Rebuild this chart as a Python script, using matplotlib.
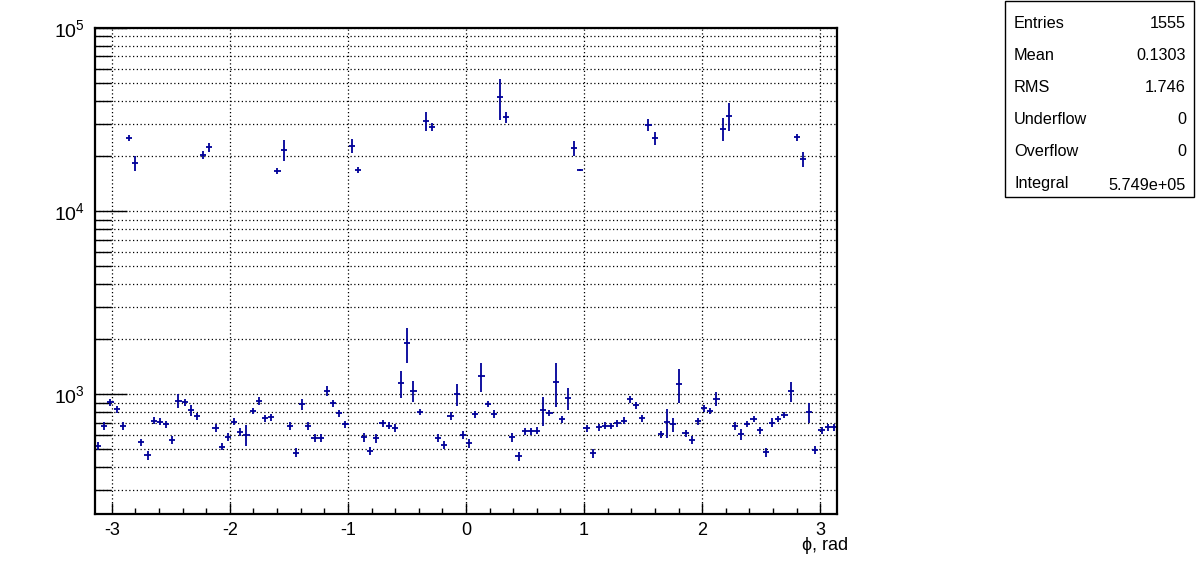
import numpy as np
import matplotlib
matplotlib.use("Agg")
import matplotlib.pyplot as plt
from matplotlib.ticker import MultipleLocator, LogLocator, NullFormatter
from matplotlib.patches import Rectangle

# ---- data (120 bins in phi from -pi to pi) ----
n_bins = 120
phi_min, phi_max = -np.pi, np.pi

counts = [
    524, 674, 904, 828, 674, 25060, 18280, 547, 464, 717,
    708, 685, 562, 923, 904, 820, 760, 20320, 22280, 654,
    518, 586, 708, 625, 600, 811, 919, 739, 748, 16600,
    21630, 674, 480, 885, 674, 579, 579, 1042, 893, 787,
    685, 22800, 16750, 582, 490, 575, 695, 674, 654, 1149,
    1900, 1042, 797, 31120, 28770, 579, 531, 764, 1000, 600,
    540, 778, 1259, 885, 780, 41980, 32640, 582, 460, 630,
    630, 632, 820, 787, 1163, 733, 951, 22070, 16750, 652,
    476, 661, 674, 671, 695, 717, 939, 871, 739, 29640,
    25060, 604, 703, 685, 1134, 612, 562, 714, 838, 811,
    942, 28180, 33040, 674, 604, 688, 733, 638, 482, 700,
    733, 771, 1042, 25350, 19230, 797, 497, 638, 661, 661,
]

errors = [
    26, 32, 38, 36, 32, 1000, 1800, 26, 24, 32,
    30, 32, 30, 82, 38, 57, 32, 1080, 1330, 32,
    24, 30, 32, 30, 78, 34, 42, 36, 32, 580,
    2900, 32, 26, 62, 36, 30, 30, 62, 40, 37,
    32, 2000, 640, 30, 26, 30, 32, 28, 32, 190,
    410, 140, 30, 3600, 1550, 30, 26, 38, 140, 28,
    28, 35, 228, 38, 36, 10700, 2200, 30, 26, 28,
    28, 28, 146, 30, 310, 32, 133, 1970, 250, 28,
    26, 30, 28, 28, 32, 32, 38, 38, 32, 2370,
    2050, 28, 123, 60, 238, 28, 28, 32, 34, 30,
    84, 3900, 5800, 32, 42, 28, 30, 28, 26, 40,
    30, 30, 130, 1090, 1850, 100, 26, 28, 28, 28,
]

stats_names = ["Entries", "Mean", "RMS", "Underflow", "Overflow", "Integral"]
stats_values = ["1555", "0.1303", "1.746", "0", "0", "5.749e+05"]

x_label = "\u03d5, rad"

# ---- figure ----
plt.rcParams['font.family'] = ['Liberation Sans', 'DejaVu Sans']
plt.rcParams['axes.unicode_minus'] = False
plt.rcParams['mathtext.fontset'] = 'custom'
plt.rcParams['mathtext.rm'] = 'Liberation Sans'
plt.rcParams['mathtext.it'] = 'Liberation Sans:italic'
W, H = 1196, 572
fig = plt.figure(figsize=(W / 100, H / 100), dpi=100)
ax = fig.add_axes([95 / W, 1 - 514 / H, 742 / W, 486 / H])

edges = np.linspace(phi_min, phi_max, n_bins + 1)
centers = 0.5 * (edges[:-1] + edges[1:])
half_w = 0.5 * (edges[1] - edges[0])

col = '#000099'
ax.errorbar(centers, counts, xerr=half_w, yerr=errors, fmt='none',
            ecolor=col, elinewidth=1.3, capsize=0)

ax.set_yscale('log')
ax.set_xlim(phi_min, phi_max)
ax.set_ylim(222, 1e5)

ax.xaxis.set_major_locator(MultipleLocator(1))
ax.xaxis.set_minor_locator(MultipleLocator(0.2))
ax.yaxis.set_major_locator(LogLocator(base=10, numticks=10))
ax.yaxis.set_minor_locator(LogLocator(base=10, subs=np.arange(2, 10), numticks=20))
ax.yaxis.set_minor_formatter(NullFormatter())

ax.tick_params(axis='both', which='both', direction='in', top=False, right=False,
               color='black')
ax.tick_params(axis='x', which='major', length=8, width=1, pad=6, labelsize=13)
ax.tick_params(axis='x', which='minor', length=4, width=1)
ax.tick_params(axis='y', which='major', length=23, width=1, pad=7, labelsize=14)
ax.tick_params(axis='y', which='minor', length=11.5, width=1)

dot = (0, (1, 2))
ax.grid(True, which='major', axis='x', color='black', linestyle=dot, linewidth=0.9)
ax.grid(True, which='both', axis='y', color='black', linestyle=dot, linewidth=0.9)
ax.set_axisbelow(True)

for s in ax.spines.values():
    s.set_linewidth(1.6)
    s.set_color('black')

fig.text(848 / W, 1 - 546 / H, x_label, ha='right', va='center', fontsize=13)

# ---- stats box ----
bx0, bx1, by0, by1 = 1005, 1194, 1, 197
fig.patches.append(Rectangle((bx0 / W, 1 - by1 / H), (bx1 - bx0) / W, (by1 - by0) / H,
                             transform=fig.transFigure, facecolor='white',
                             edgecolor='black', linewidth=1.0))
row_y = [23, 55, 88, 120, 152, 183]
for name, val, yy in zip(stats_names, stats_values, row_y):
    fig.text(1014 / W, 1 - yy / H, name, ha='left', va='center', fontsize=11.7)
    fig.text(1186 / W, 1 - (yy + (2 if name == 'Integral' else 0)) / H, val,
             ha='right', va='center', fontsize=11.7)

fig.savefig('out.png', dpi=100)
